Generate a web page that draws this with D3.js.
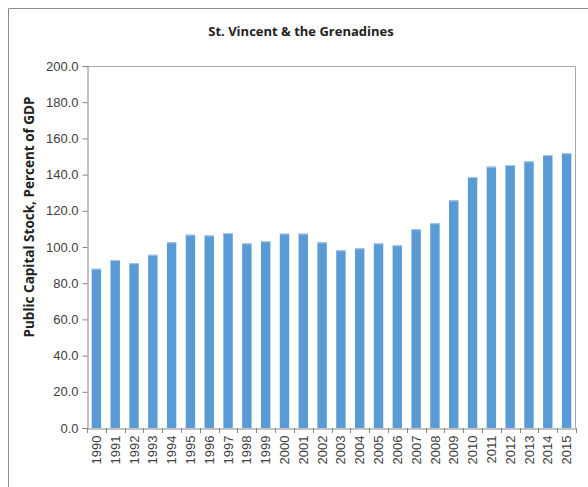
<!DOCTYPE html>
<html>
<head>
<meta charset="utf-8">
<script src="https://cdn.jsdelivr.net/npm/d3@7"></script>
<style>
  body { margin: 0; background: #fff; }
  text { font-family: "Liberation Sans Narrow", "Liberation Sans", sans-serif; }
</style>
</head>
<body>
<div id="chart"></div>
<script>
// Chart data
var years = ["1990","1991","1992","1993","1994","1995","1996","1997","1998","1999",
  "2000","2001","2002","2003","2004","2005","2006","2007","2008","2009",
  "2010","2011","2012","2013","2014","2015"];
var capitalStock = [88.0, 92.8, 91.0, 95.7, 102.6, 106.8, 106.4, 107.7, 102.0, 103.1,
  107.4, 107.4, 102.6, 98.2, 99.3, 102.0, 100.9, 109.8, 113.1, 125.8,
  138.7, 144.4, 145.3, 147.3, 150.8, 151.8];
var yTicks = [0, 20, 40, 60, 80, 100, 120, 140, 160, 180, 200];

var svgWidth = 588;
var svgHeight = 487;

var margin = { top: 66, right: 12, bottom: 59, left: 87 };
var chartWidth = svgWidth - margin.left - margin.right;
var chartHeight = svgHeight - margin.top - margin.bottom;

var svg = d3.select("#chart")
  .append("svg")
  .attr("width", svgWidth)
  .attr("height", svgHeight);

// outer chart frame (only left and top visible)
svg.append("path")
  .attr("d", "M8.5,487 V8.5 H588")
  .attr("fill", "none")
  .attr("stroke", "#8c8c8c")
  .attr("stroke-width", 1);

svg.append("text")
  .attr("x", 301)
  .attr("y", 36)
  .attr("text-anchor", "middle")
  .style("font-family", "'Open Sans', sans-serif")
  .style("font-size", "13px")
  .style("font-weight", "bold")
  .style("fill", "#222")
  .text("St. Vincent & the Grenadines");

var chartGroup = svg.append("g")
  .attr("transform", `translate(${margin.left}, ${margin.top})`);

var xBandScale = d3.scaleBand()
  .domain(years)
  .range([0, chartWidth])
  .paddingInner(0.5)
  .paddingOuter(0.25);

var yLinearScale = d3.scaleLinear()
  .domain([0, 200])
  .range([chartHeight, 0]);

// plot area border (top + right)
chartGroup.append("path")
  .attr("d", `M0,0.5 H${chartWidth - 0.5} V${chartHeight}`)
  .attr("fill", "none")
  .attr("stroke", "#a6a6a6");

// bars
chartGroup.selectAll("rect.bar")
  .data(capitalStock)
  .enter()
  .append("rect")
  .attr("class", "bar")
  .attr("x", (d, i) => xBandScale(years[i]))
  .attr("y", d => yLinearScale(d))
  .attr("width", xBandScale.bandwidth())
  .attr("height", d => chartHeight - yLinearScale(d))
  .attr("fill", "#5b9bd5");

chartGroup.selectAll("rect.bartop")
  .data(capitalStock)
  .enter()
  .append("rect")
  .attr("class", "bartop")
  .attr("x", (d, i) => xBandScale(years[i]))
  .attr("y", d => yLinearScale(d))
  .attr("width", xBandScale.bandwidth())
  .attr("height", 1)
  .attr("fill", "#a9c9ea");

// y axis
var leftAxis = d3.axisLeft(yLinearScale)
  .tickValues(yTicks)
  .tickSize(5)
  .tickPadding(4)
  .tickFormat(d3.format(".1f"));

var yAxisG = chartGroup.append("g")
  .attr("transform", "translate(0.5,0)")
  .call(leftAxis);
yAxisG.select(".domain").attr("stroke", "#868686");
yAxisG.selectAll(".tick line").attr("stroke", "#868686");
yAxisG.selectAll(".tick text")
  .style("font-size", "13px")
  .style("fill", "#404040");

// x axis with tick marks between categories
var bottomAxis = d3.axisBottom(xBandScale).tickSize(0).tickPadding(5);
var xAxisG = chartGroup.append("g")
  .attr("transform", `translate(0, ${chartHeight + 0.5})`)
  .call(bottomAxis);
xAxisG.select(".domain").attr("stroke", "#868686");
xAxisG.selectAll(".tick text")
  .attr("transform", "rotate(-90)")
  .attr("text-anchor", "end")
  .attr("x", -7)
  .attr("y", 0)
  .attr("dy", "0.35em")
  .style("font-size", "13px")
  .style("fill", "#404040");

var step = xBandScale.step();
chartGroup.selectAll("line.xsep")
  .data(d3.range(years.length + 1))
  .enter()
  .append("line")
  .attr("class", "xsep")
  .attr("x1", i => Math.round(i * step) + 0.5)
  .attr("x2", i => Math.round(i * step) + 0.5)
  .attr("y1", chartHeight)
  .attr("y2", chartHeight + 5)
  .attr("stroke", "#868686");

// y axis title
svg.append("text")
  .attr("transform", "translate(34, 217) rotate(-90)")
  .attr("text-anchor", "middle")
  .style("font-family", "'Open Sans', sans-serif")
  .style("font-size", "13.5px")
  .style("font-weight", "bold")
  .style("fill", "#222")
  .text("Public Capital Stock, Percent of GDP");
</script>
</body>
</html>
